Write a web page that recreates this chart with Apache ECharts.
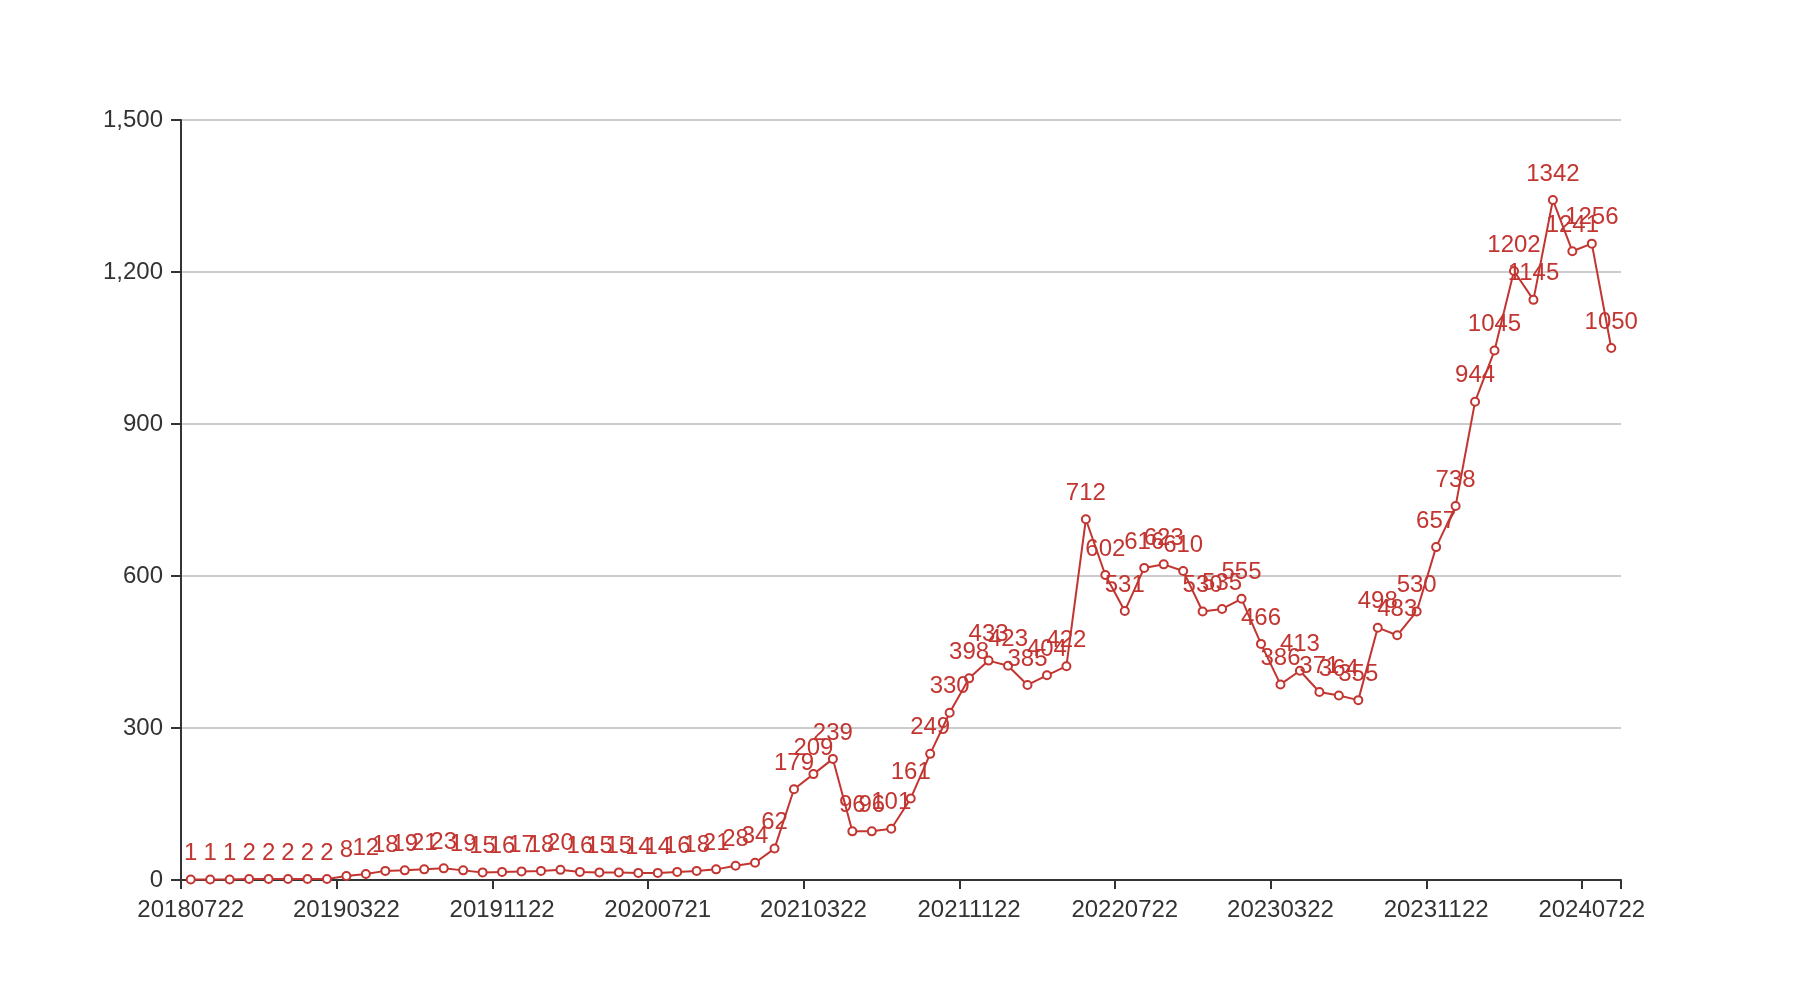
<!DOCTYPE html>
<html>
<head>
<meta charset="utf-8">
<script src="https://cdn.jsdelivr.net/npm/echarts@6/dist/echarts.min.js"></script>
<style>html,body{margin:0;padding:0;background:#fff}#main{width:1800px;height:1000px}</style>
</head>
<body>
<div id="main"></div>
<script>
const dates = [
  '20180722','20180822','20180922','20181022','20181122','20181222','20190122','20190222',
  '20190322','20190422','20190522','20190622','20190722','20190822','20190922','20191022',
  '20191122','20191222','20200122','20200222','20200322','20200422','20200522','20200622',
  '20200721','20200822','20200922','20201022','20201122','20201222','20210122','20210222',
  '20210322','20210422','20210522','20210622','20210722','20210822','20210922','20211022',
  '20211122','20211222','20220122','20220222','20220322','20220422','20220522','20220622',
  '20220722','20220822','20220922','20221022','20221122','20221222','20230122','20230222',
  '20230322','20230422','20230522','20230622','20230722','20230822','20230922','20231022',
  '20231122','20231222','20240122','20240222','20240322','20240422','20240522','20240622',
  '20240722','20240822'
];
const values = [
  1,1,1,2,2,2,2,2,
  8,12,18,19,21,23,19,15,16,17,18,20,16,15,15,14,14,16,18,21,28,34,62,
  179,209,239,
  96,96,101,
  161,249,330,398,433,423,385,404,422,
  712,602,531,616,623,610,
  530,535,555,466,386,413,371,364,355,
  498,483,530,657,738,944,1045,1202,1145,1342,1241,1256,1050
];
const yTicks = { min: 0, max: 1500, interval: 300 };

const chart = echarts.init(document.getElementById('main'));
const font = 'Liberation Sans, Arial, sans-serif';
const red = '#c23531';
chart.setOption({
  animation: false,
  backgroundColor: '#fff',
  textStyle: { fontFamily: font },
  grid: { left: 181, right: 179, top: 120, bottom: 120 },
  xAxis: {
    type: 'category',
    data: dates,
    boundaryGap: true,
    axisLine: { show: true, lineStyle: { color: '#333', width: 2 } },
    axisTick: { show: true, length: 9, interval: 7, lineStyle: { color: '#333', width: 2 } },
    axisLabel: { interval: 7, color: '#333', fontSize: 24, margin: 18, fontFamily: font }
  },
  yAxis: {
    type: 'value',
    min: yTicks.min, max: yTicks.max, interval: yTicks.interval,
    axisLine: { show: true, lineStyle: { color: '#333', width: 2 } },
    axisTick: { show: true, length: 10, lineStyle: { color: '#333', width: 2 } },
    axisLabel: { color: '#333', fontSize: 24, margin: 18, fontFamily: font },
    splitLine: { show: true, lineStyle: { color: '#ccc', width: 2 } }
  },
  series: [{
    type: 'line',
    data: values,
    symbol: 'emptyCircle',
    symbolSize: 8,
    showAllSymbol: true,
    lineStyle: { color: red, width: 2 },
    itemStyle: { color: red, borderColor: red, borderWidth: 2 },
    label: { show: true, position: 'top', distance: 9, color: red, fontSize: 24, fontFamily: font }
  }]
});
</script>
</body>
</html>
